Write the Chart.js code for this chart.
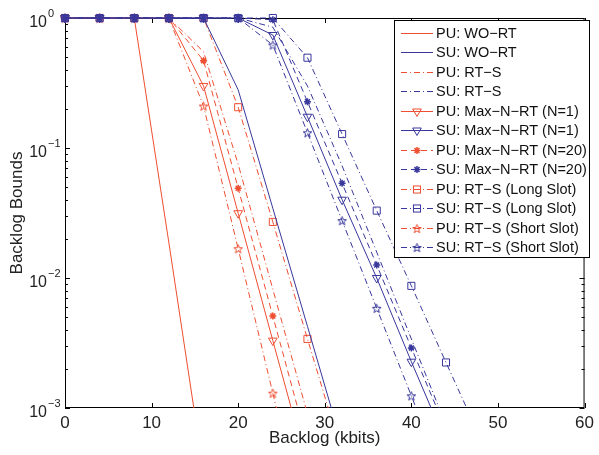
<!DOCTYPE html>
<html>
<head>
<meta charset="utf-8">
<script src="https://cdn.jsdelivr.net/npm/chart.js@4/dist/chart.umd.min.js"></script>
<style>
  html, body { margin: 0; padding: 0; background: #fff; }
</style>
</head>
<body>
<canvas id="chart" width="599" height="455"></canvas>
<script>
// backlog points (kbits), one marker per point
const backlog = [0, 4, 8, 12, 16, 20, 24, 28, 32, 36, 40, 44, 48];
const xTicks = [0, 10, 20, 30, 40, 50, 60];
const yTicks = [1, 0.1, 0.01, 0.001];
const yTickExp = ['0', '\u22121', '\u22122', '\u22123'];

// backlog bound values
const puWoRt   = [1, 1, 1, 0.0186, 0.00032];
const suWoRt   = [1, 1, 1, 1, 1, 0.28, 0.0344, 0.00425, 0.00052];
const puRtS    = [1, 1, 1, 1, 0.55, 0.075, 0.0082, 0.0009];
const suRtS    = [1, 1, 1, 1, 1, 1, 0.85, 0.3, 0.073, 0.0158, 0.0034, 0.00074];
const puMaxN1  = [1, 1, 1, 1, 0.30, 0.0315, 0.0033, 0.00035];
const suMaxN1  = [1, 1, 1, 1, 1, 1, 0.74, 0.174, 0.040, 0.010, 0.00227, 0.00054];
const puMaxN20 = [1, 1, 1, 1, 0.47, 0.049, 0.0051, 0.00053];
const suMaxN20 = [1, 1, 1, 1, 1, 1, 0.97, 0.227, 0.0535, 0.0126, 0.0029, 0.00068];
const puLong   = [1, 1, 1, 1, 1, 0.206, 0.027, 0.0034, 0.00044];
const suLong   = [1, 1, 1, 1, 1, 1, 1, 0.495, 0.128, 0.033, 0.0087, 0.00224, 0.00058];
const puShort  = [1, 1, 1, 1, 0.21, 0.0168, 0.0013, 0.0001];
const suShort  = [1, 1, 1, 1, 1, 1, 0.62, 0.131, 0.0276, 0.00585, 0.00124, 0.00026];

const RED = '#ef4e31';
const BLUE = '#38379b';
const FONT = 'Liberation Sans, Arial, Helvetica, sans-serif';
const DASHDOT = [6, 3, 1, 3];
const DASHED = [6, 4];

function starImage(color) {
  const c = document.createElement('canvas');
  c.width = 11; c.height = 11;
  const g = c.getContext('2d');
  g.strokeStyle = color;
  g.lineWidth = 1;
  g.beginPath();
  for (let i = 0; i < 10; i++) {
    const r = i % 2 ? 1.9 : 4.6;
    const a = -Math.PI / 2 + i * Math.PI / 5;
    const px = 5.5 + r * Math.cos(a), py = 6 + r * Math.sin(a);
    if (i) g.lineTo(px, py); else g.moveTo(px, py);
  }
  g.closePath();
  g.stroke();
  return c;
}
const redStar = starImage(RED);
const blueStar = starImage(BLUE);

function series(label, values, color, dash, marker) {
  const ds = {
    label: label,
    data: values.map((v, i) => ({ x: backlog[i], y: v })),
    borderColor: color,
    borderWidth: 1,
    borderDash: dash,
    pointBorderColor: color,
    pointBackgroundColor: 'rgba(0,0,0,0)',
    pointBorderWidth: 1,
    pointRadius: 0,
    tension: 0,
    fill: false,
    order: color === BLUE ? 1 : 2,
    clip: { left: 8, top: 8, right: 0, bottom: 0 },
    marker: marker
  };
  if (marker === 'tri') { ds.pointStyle = 'triangle'; ds.pointRotation = 180; ds.pointRadius = 5; }
  if (marker === 'sq') { ds.pointStyle = 'rect'; ds.pointRadius = 5; }
  if (marker === 'ast') { ds.pointStyle = 'star'; ds.pointRadius = 3.5; ds.pointBorderWidth = 1.5; }
  if (marker === 'star') { ds.pointStyle = color === BLUE ? blueStar : redStar; ds.pointRadius = 5; }
  return ds;
}

const datasets = [
  series('PU: WO\u2212RT', puWoRt, RED, [], null),
  series('SU: WO\u2212RT', suWoRt, BLUE, [], null),
  series('PU: RT\u2212S', puRtS, RED, DASHDOT, null),
  series('SU: RT\u2212S', suRtS, BLUE, DASHDOT, null),
  series('PU: Max\u2212N\u2212RT (N=1)', puMaxN1, RED, [], 'tri'),
  series('SU: Max\u2212N\u2212RT (N=1)', suMaxN1, BLUE, [], 'tri'),
  series('PU: Max\u2212N\u2212RT (N=20)', puMaxN20, RED, DASHED, 'ast'),
  series('SU: Max\u2212N\u2212RT (N=20)', suMaxN20, BLUE, DASHED, 'ast'),
  series('PU: RT\u2212S (Long Slot)', puLong, RED, DASHDOT, 'sq'),
  series('SU: RT\u2212S (Long Slot)', suLong, BLUE, DASHDOT, 'sq'),
  series('PU: RT\u2212S (Short Slot)', puShort, RED, DASHDOT, 'star'),
  series('SU: RT\u2212S (Short Slot)', suShort, BLUE, DASHDOT, 'star')
];

function drawMarker(ctx, ds, x, y) {
  ctx.save();
  ctx.setLineDash([]);
  ctx.strokeStyle = ds.borderColor;
  ctx.lineWidth = ds.pointBorderWidth;
  if (ds.marker === 'tri') {
    const r = ds.pointRadius;
    ctx.beginPath();
    ctx.moveTo(x, y + r);
    ctx.lineTo(x - r * 0.866, y - r * 0.5);
    ctx.lineTo(x + r * 0.866, y - r * 0.5);
    ctx.closePath();
    ctx.stroke();
  } else if (ds.marker === 'sq') {
    const s = ds.pointRadius * Math.SQRT1_2;
    ctx.strokeRect(x - s, y - s, 2 * s, 2 * s);
  } else if (ds.marker === 'ast') {
    const r = ds.pointRadius;
    ctx.beginPath();
    for (let k = 0; k < 4; k++) {
      const a = k * Math.PI / 4;
      ctx.moveTo(x - r * Math.cos(a), y - r * Math.sin(a));
      ctx.lineTo(x + r * Math.cos(a), y + r * Math.sin(a));
    }
    ctx.stroke();
  } else if (ds.marker === 'star') {
    const img = ds.pointStyle;
    ctx.drawImage(img, x - img.width / 2, y - img.height / 2);
  }
  ctx.restore();
}

// axes box with inward ticks (drawn under the data)
const boxPlugin = {
  id: 'box',
  beforeDatasetsDraw(chart) {
    const ctx = chart.ctx;
    const { left, right, top, bottom } = chart.chartArea;
    const xs = chart.scales.x, ys = chart.scales.y;
    ctx.save();
    ctx.strokeStyle = '#000';
    ctx.lineWidth = 1;
    ctx.strokeRect(left + 0.5, top + 0.5, right - left - 1, bottom - top - 1);
    ctx.beginPath();
    xTicks.forEach(v => {
      const px = Math.round(xs.getPixelForValue(v)) + 0.5;
      ctx.moveTo(px, bottom); ctx.lineTo(px, bottom - 5);
      ctx.moveTo(px, top); ctx.lineTo(px, top + 5);
    });
    for (let e = -3; e < 0; e++) {
      for (let m = 2; m <= 9; m++) {
        const py = Math.round(ys.getPixelForValue(m * Math.pow(10, e))) + 0.5;
        ctx.moveTo(left, py); ctx.lineTo(left + 3, py);
        ctx.moveTo(right, py); ctx.lineTo(right - 3, py);
      }
    }
    yTicks.forEach(v => {
      const py = Math.round(ys.getPixelForValue(v)) + 0.5;
      ctx.moveTo(left, py); ctx.lineTo(left + 5, py);
      ctx.moveTo(right, py); ctx.lineTo(right - 5, py);
    });
    ctx.stroke();
    ctx.restore();
  },
  afterDraw(chart) {
    // power-of-ten labels on the y axis
    const ctx = chart.ctx;
    const ys = chart.scales.y;
    ctx.save();
    ctx.fillStyle = '#222';
    yTicks.forEach((v, i) => {
      const py = ys.getPixelForValue(v);
      ctx.font = '16px ' + FONT;
      ctx.textAlign = 'right';
      ctx.textBaseline = 'middle';
      ctx.fillText('10', 47, py + 5);
      ctx.font = '11px ' + FONT;
      ctx.textAlign = 'left';
      ctx.fillText(yTickExp[i], 48, py - 4);
    });
    ctx.restore();
  }
};

// legend box inside the plot, top right
const legendPlugin = {
  id: 'boxLegend',
  afterDatasetsDraw(chart) {
    const ctx = chart.ctx;
    const bx = 394.5, by = 20.5, bw = 195, bh = 237;
    ctx.save();
    ctx.fillStyle = '#fff';
    ctx.fillRect(bx, by, bw, bh);
    ctx.strokeStyle = '#000';
    ctx.lineWidth = 1;
    ctx.strokeRect(bx, by, bw, bh);
    ctx.font = '14.5px ' + FONT;
    ctx.textBaseline = 'middle';
    ctx.textAlign = 'left';
    chart.data.datasets.forEach((ds, i) => {
      const y = Math.round(33 + i * 19.45) + 0.5;
      ctx.strokeStyle = ds.borderColor;
      ctx.lineWidth = 1;
      ctx.setLineDash(ds.borderDash);
      ctx.beginPath();
      ctx.moveTo(401, y); ctx.lineTo(433, y);
      ctx.stroke();
      ctx.setLineDash([]);
      if (ds.marker) drawMarker(ctx, ds, 417, y);
      ctx.fillStyle = '#111';
      ctx.fillText(ds.label, 436, y);
    });
    ctx.restore();
  }
};

new Chart(document.getElementById('chart'), {
  type: 'line',
  data: { datasets: datasets },
  options: {
    responsive: false,
    animation: false,
    devicePixelRatio: 1,
    layout: { padding: { top: 18, right: 8, left: 0, bottom: 0 } },
    plugins: { legend: { display: false }, tooltip: { enabled: false } },
    scales: {
      x: {
        type: 'linear', min: 0, max: 60,
        grid: { display: false, drawTicks: false },
        border: { display: false },
        afterBuildTicks: s => { s.ticks = xTicks.map(v => ({ value: v })); },
        ticks: { padding: 5, maxRotation: 0, color: '#222', font: { size: 17, family: FONT } },
        title: { display: true, text: 'Backlog (kbits)', color: '#222',
                 font: { size: 17, family: FONT }, padding: { top: 0, bottom: 6 } },
        afterFit: s => { s.height = 47; }
      },
      y: {
        type: 'logarithmic', min: 0.001, max: 1,
        grid: { display: false, drawTicks: false },
        border: { display: false },
        ticks: { display: false },
        title: { display: true, text: 'Backlog Bounds', color: '#222',
                 font: { size: 17, family: FONT }, padding: { top: 7, bottom: 0 } },
        afterFit: s => { s.width = 65; }
      }
    }
  },
  plugins: [boxPlugin, legendPlugin]
});
</script>
</body>
</html>
